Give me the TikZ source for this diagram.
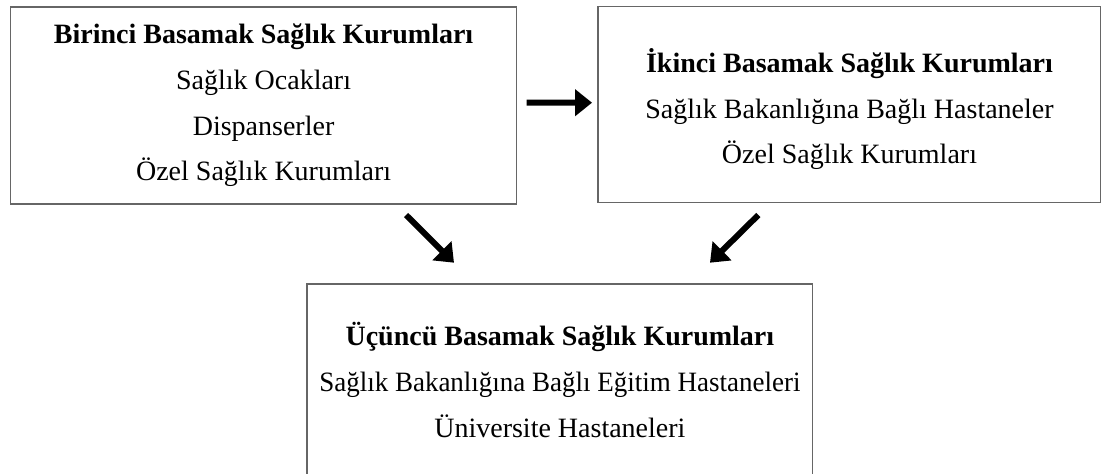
\documentclass[tikz,border=0pt]{standalone}
\usepackage{fontspec}
\setmainfont{Liberation Serif}
\usetikzlibrary{arrows.meta}
\tikzset{
	kutu/.style={draw=black!60, line width=.65pt, inner sep=0pt, align=center,
		font=\fontsize{14}{22.8}\selectfont},
	ok/.style={-{Triangle[length=8.5pt,width=13pt]}, line width=3pt}
}
\begin{document}
\begin{tikzpicture}[x=.5pt, y=-.5pt, line join=miter]
	\useasboundingbox (0,0) rectangle (1101,473);
	%\draw[gray!50, dashed] (0,0) grid (1101,473);
	\node[kutu, minimum width=253pt, minimum height=98.5pt] (birinci) at (263.6,105.4)
		{\textbf{Birinci Basamak Sağlık Kurumları}\\ Sağlık Ocakları\\ Dispanserler\\ Özel Sağlık Kurumları};
	\node[kutu, minimum width=251.5pt, minimum height=97.9pt] (ikinci) at (849.5,104.6)
		{\rule{0pt}{16.5pt}\textbf{İkinci Basamak Sağlık Kurumları}\\ Sağlık Bakanlığına Bağlı Hastaneler\\ Özel Sağlık Kurumları};
	\node[kutu, minimum width=252.9pt, minimum height=96pt] (ucuncu) at (559.9,380)
		{\textbf{Üçüncü Basamak Sağlık Kurumları}\\ \scalebox{.964}[1]{Sağlık Bakanlığına Bağlı Eğitim Hastaneleri}\\ Üniversite Hastaneleri};
	% oklar
	\coordinate (o1) at (406,215);   \coordinate (u1) at (454,262.7);
	\coordinate (o2) at (758.3,215); \coordinate (u2) at (710,262.7);
	\draw[ok, shorten <=4.65pt, shorten >=2.65pt] ([yshift=1.35pt]birinci.east) -- ([yshift=.95pt]ikinci.west);
	\draw[ok] (o1) -- (u1);
	\draw[ok] (o2) -- (u2);
\end{tikzpicture}
\end{document}
